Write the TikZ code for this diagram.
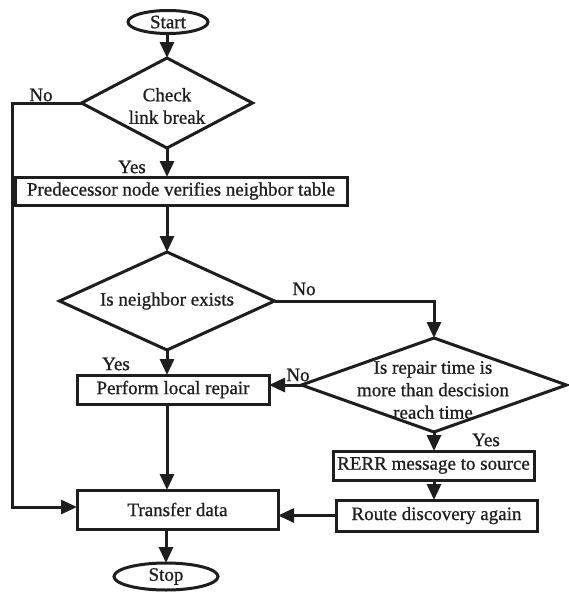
\documentclass[tikz,border=0pt]{standalone}
\usepackage{fontspec}
\setmainfont{Liberation Serif}[FakeBold=0.8]
\usetikzlibrary{shapes.geometric,arrows.meta}
\definecolor{ink}{HTML}{1E1E1E}
\begin{document}
\begin{tikzpicture}[x=1pt,y=-1pt,
  every node/.style={font=\fontsize{19}{22.5}\selectfont, text=ink},
  base/.style={draw=ink, line width=3pt, inner sep=0pt, outer sep=0pt},
  box/.style={base, rectangle},
  term/.style={base, ellipse},
  dec/.style={base, diamond},
  lbl/.style={inner sep=0pt},
  txt/.style={align=center, inner sep=0pt},
  conn/.style={draw=ink, line width=3pt},
  arr/.style={conn, -{Triangle[length=16pt,width=14pt]}},
]
\useasboundingbox[fill=white] (0,0) rectangle (568,592);

% shapes
\node[term, minimum width=80pt, minimum height=23pt] (start) at (168,22) {Start};
\node[dec, minimum width=171pt, minimum height=90pt] (d1) at (167,103) {};
\node[txt] (d1t) at (167,106) {Check\\link break};
\node[box, minimum width=332pt, minimum height=28pt] (pred) at (181,191) {Predecessor node verifies neighbor table};
\node[dec, minimum width=215pt, minimum height=98pt] (d2) at (167,301) {};
\node[txt] (d2t) at (167,301) {Is neighbor exists};
\node[box, minimum width=192pt, minimum height=29pt] (perf) at (173,389.5) {Perform local repair};
\node[dec, minimum width=265pt, minimum height=94pt] (d3) at (434,385) {};
\node[txt] (d3t) at (433,390) {Is repair time is\\more than descision\\reach time};
\node[box, minimum width=201pt, minimum height=29pt] (rerr) at (433.5,465.5) {RERR message to source};
\node[box, minimum width=201pt, minimum height=31pt] (route) at (436.5,515.5) {Route discovery again};
\node[box, minimum width=201pt, minimum height=39pt] (trans) at (177.5,509.5) {Transfer data};
\node[term, minimum width=104pt, minimum height=27pt] (stop) at (166,576.5) {Stop};

% labels
\node[lbl] (no1) at (41,95) {No};
\node[lbl] (yes1) at (132,167) {Yes};
\node[lbl] (no2) at (304,289) {No};
\node[lbl] (yes2) at (116,364) {Yes};
\node[lbl] (no3) at (298,375) {No};
\node[lbl] (yes3) at (486,440) {Yes};

% corner coordinates
\coordinate (lc1) at (12,103);
\coordinate (lc2) at (12,507);

% connectors
\draw[arr] (start.south -| d1.north) -- (d1.north);
\draw[arr] (d1.west) -- (lc1) -- (lc2) -- (lc2 -| trans.west);
\draw[arr] (d1.south) -- (d1.south |- pred.north);
\draw[arr] (d2.north |- pred.south) -- (d2.north);
\draw[arr] (d2.east) -- (d2.east -| d3.north) -- (d3.north);
\draw[arr] (d2.south) -- (d2.south |- perf.north);
\draw[arr] (d3.west) -- (d3.west -| perf.east);
\draw[arr] (perf.south -| d2.south) -- (trans.north -| d2.south);
\draw[arr] (d3.south) -- (d3.south |- rerr.north);
\draw[arr] (rerr.south -| d3.south) -- (route.north -| d3.south);
\draw[arr] (route.west) -- (route.west -| trans.east);
\draw[arr] (trans.south -| stop.north) -- (stop.north);
\end{tikzpicture}
\end{document}
